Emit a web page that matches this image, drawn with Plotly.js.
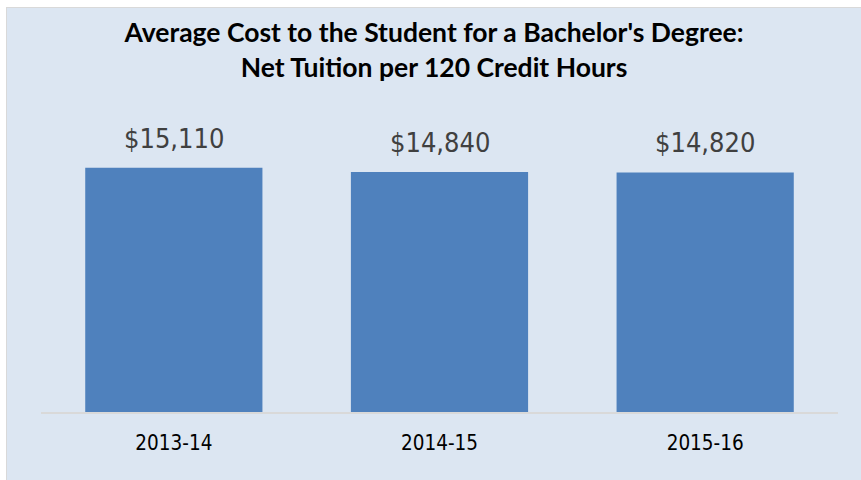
<!DOCTYPE html>
<html>
<head>
<meta charset="utf-8">
<script src="https://cdn.plot.ly/plotly-3.0.1.min.js"></script>
<style>
  html, body { margin: 0; padding: 0; background: #ffffff; width: 861px; height: 480px; overflow: hidden; }
  #chart { position: absolute; left: 6px; top: 7px; width: 854px; height: 472px;
           border-left: 1px solid #d9d9d9; border-top: 1px solid #d9d9d9; }
</style>
</head>
<body>
<div id="chart"></div>
<script>
const categories = ["2013-14", "2014-15", "2015-16"];
const netTuition = [15110, 14840, 14820];
const valueLabels = netTuition.map(v => "$" + v.toLocaleString("en-US"));

const bg = "#dce6f2";
const narrow = "DejaVu Sans Condensed, Liberation Sans Narrow, Roboto, sans-serif";
const trace = {
  type: "bar",
  x: categories,
  y: netTuition,
  marker: { color: "#4f81bd" },
  hoverinfo: "skip"
};

const annotations = categories.map((c, i) => ({
  x: c, y: netTuition[i], xref: "x", yref: "y",
  text: valueLabels[i], showarrow: false,
  yanchor: "bottom", yshift: 12,
  font: { family: narrow, size: 27, color: "#404040" }
}));

const layout = {
  width: 854, height: 472,
  paper_bgcolor: bg, plot_bgcolor: bg,
  margin: { l: 34, r: 23, t: 113, b: 68 },
  bargap: 0.333,
  title: {
    text: "Average Cost to the Student for a Bachelor's Degree:<br>Net Tuition per 120 Credit Hours",
    font: { family: "Lato, Carlito, sans-serif", size: 26.5, color: "#000000", weight: "bold" },
    x: 0.5, xanchor: "center", xref: "container",
    y: 0.927, yanchor: "top", yref: "container"
  },
  xaxis: {
    type: "category",
    showline: true, linecolor: "#d9d9d9", linewidth: 2,
    ticks: "", showgrid: false, zeroline: false,
    tickfont: { family: narrow, size: 20.5, color: "#000000" },
    ticklabelstandoff: 11
  },
  yaxis: {
    range: [0, 18000], visible: false, showgrid: false, zeroline: false, fixedrange: true
  },
  annotations: annotations,
  showlegend: false
};

Plotly.newPlot("chart", [trace], layout, { displayModeBar: false, staticPlot: true });
</script>
</body>
</html>
